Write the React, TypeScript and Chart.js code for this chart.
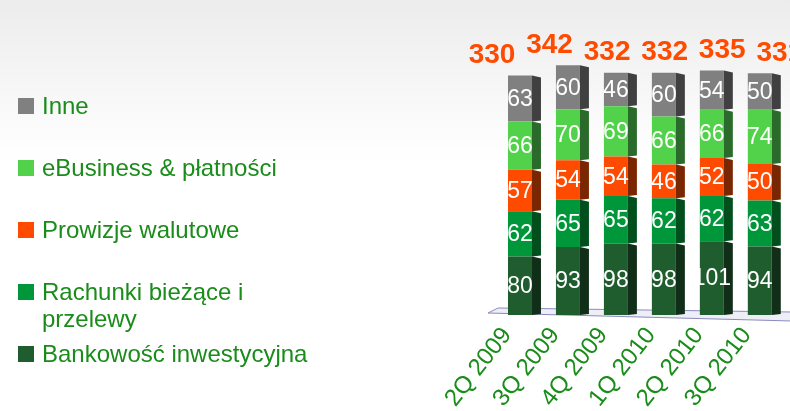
import React, { useEffect, useRef } from "react";
import { Chart, registerables } from "chart.js";

Chart.register(...registerables);

const categories = ["2Q 2009", "3Q 2009", "4Q 2009", "1Q 2010", "2Q 2010", "3Q 2010"];
const bankowosc = [80, 93, 98, 98, 101, 94];
const rachunki = [62, 65, 65, 62, 62, 63];
const prowizje = [57, 54, 54, 46, 52, 50];
const ebusiness = [66, 70, 69, 66, 66, 74];
const inne = [63, 60, 46, 60, 54, 50];
const totals = [330, 342, 332, 332, 335, 331];
const seriesNames = [
  "Bankowość inwestycyjna",
  "Rachunki bieżące i przelewy",
  "Prowizje walutowe",
  "eBusiness & płatności",
  "Inne",
];
const frontColors = ["#1f5c2e", "#00963a", "#ff4b00", "#52d24a", "#808080"];
const sideColors = ["#112e18", "#004f1c", "#7a2600", "#2a6a2a", "#404040"];
const textGreen = "#1a8c1a";

const bgPlugin = {
  id: "bg",
  beforeDraw(chart: any) {
    const { ctx, width, height } = chart;
    ctx.save();
    ctx.fillStyle = "#ffffff";
    ctx.fillRect(0, 0, width, height);
    const g = ctx.createLinearGradient(0, 0, 0, 160);
    g.addColorStop(0, "#ececec");
    g.addColorStop(1, "rgba(255,255,255,1)");
    ctx.fillStyle = g;
    ctx.fillRect(0, 0, width, 160);
    ctx.restore();
  },
};

const floorPlugin = {
  id: "floor",
  beforeDatasetsDraw(chart: any) {
    const { ctx, chartArea } = chart;
    const b = chartArea.bottom;
    ctx.save();
    ctx.beginPath();
    ctx.moveTo(chartArea.left + 2, b - 7);
    ctx.lineTo(chartArea.right + 8, b - 3);
    ctx.lineTo(chartArea.right + 8, b + 6);
    ctx.lineTo(chartArea.left - 8, b - 2);
    ctx.closePath();
    ctx.fillStyle = "#eeeef6";
    ctx.fill();
    ctx.strokeStyle = "#8a8ac0";
    ctx.lineWidth = 1;
    ctx.stroke();
    ctx.restore();
  },
};

const decoPlugin = {
  id: "deco",
  afterDatasetsDraw(chart: any) {
    const { ctx, chartArea } = chart;
    ctx.save();
    // side faces
    chart.data.datasets.forEach((ds: any, di: number) => {
      const meta = chart.getDatasetMeta(di);
      meta.data.forEach((bar: any) => {
        const r = bar.x + bar.width / 2;
        const t = Math.min(bar.y, bar.base);
        const bt = Math.max(bar.y, bar.base);
        ctx.beginPath();
        ctx.moveTo(r, t);
        ctx.lineTo(r + 9, t + 2);
        ctx.lineTo(r + 9, bt - 1);
        ctx.lineTo(r, bt);
        ctx.closePath();
        ctx.fillStyle = sideColors[di];
        ctx.fill();
      });
    });
    // values
    ctx.fillStyle = "#ffffff";
    ctx.font = "23px 'Liberation Sans', Arial, sans-serif";
    ctx.textAlign = "center";
    ctx.textBaseline = "middle";
    chart.data.datasets.forEach((ds: any, di: number) => {
      const meta = chart.getDatasetMeta(di);
      meta.data.forEach((bar: any, i: number) => {
        const cy = (bar.y + bar.base) / 2;
        ctx.fillText(String(ds.data[i]), bar.x, cy + 1);
      });
    });
    // totals (slight perspective spread, as in the 3D original)
    const topMeta = chart.getDatasetMeta(chart.data.datasets.length - 1);
    const mid = (chartArea.left + chartArea.right) / 2;
    ctx.fillStyle = "#ff4b00";
    ctx.font = "bold 28px 'Liberation Sans', Arial, sans-serif";
    topMeta.data.forEach((bar: any, i: number) => {
      const x = bar.x + (bar.x - mid) * 0.2 - 4;
      ctx.fillText(String(totals[i]), x, bar.y - 20);
    });
    ctx.restore();
  },
};

const legendPlugin = {
  id: "sideLegend",
  afterDraw(chart: any) {
    const { ctx } = chart;
    ctx.save();
    ctx.font = "24px 'Liberation Sans', Arial, sans-serif";
    ctx.textBaseline = "middle";
    ctx.textAlign = "left";
    const n = chart.data.datasets.length;
    for (let k = 0; k < n; k++) {
      const di = n - 1 - k;
      const ds = chart.data.datasets[di];
      const cy = 106 + k * 62;
      ctx.fillStyle = frontColors[di];
      ctx.fillRect(18, cy - 8, 16, 16);
      ctx.fillStyle = textGreen;
      const words = String(ds.label).split(" ");
      const lines: string[] = [];
      let cur = "";
      for (const w of words) {
        const test = cur ? cur + " " + w : w;
        if (ctx.measureText(test).width > 275 && cur) {
          lines.push(cur);
          cur = w;
        } else cur = test;
      }
      lines.push(cur);
      lines.forEach((ln, li) => ctx.fillText(ln, 42, cy + 1 + li * 27));
    }
    ctx.restore();
  },
};

export default function App() {
  const ref = useRef<HTMLCanvasElement | null>(null);
  useEffect(() => {
    if (!ref.current) return;
    const series = [bankowosc, rachunki, prowizje, ebusiness, inne];
    const chart = new Chart(ref.current, {
      type: "bar",
      data: {
        labels: categories,
        datasets: series.map((d, i) => ({
          label: seriesNames[i],
          data: d,
          backgroundColor: frontColors[i],
          borderWidth: 0,
          barPercentage: 0.5,
          categoryPercentage: 1,
        })),
      },
      options: {
        animation: false,
        responsive: true,
        maintainAspectRatio: false,
        layout: { padding: { left: 496, right: 6, top: 23, bottom: 0 } },
        plugins: { legend: { display: false }, tooltip: { enabled: false } },
        scales: {
          x: {
            stacked: true,
            grid: { display: false, drawTicks: false },
            border: { display: false },
            ticks: {
              color: textGreen,
              font: { family: "'Liberation Sans', Arial, sans-serif", size: 24 },
              minRotation: 52,
              maxRotation: 52,
              autoSkip: false,
              labelOffset: -13,
              padding: 7,
            },
            afterFit(scale: any) {
              scale.height = 96;
            },
          },
          y: {
            stacked: true,
            display: false,
            min: 0,
            max: 400,
          },
        },
      },
      plugins: [bgPlugin, floorPlugin, decoPlugin, legendPlugin],
    });
    return () => chart.destroy();
  }, []);
  return (
    <div style={{ position: "fixed", left: 0, top: 0, width: 790, height: 411 }}>
      <canvas ref={ref} />
    </div>
  );
}
